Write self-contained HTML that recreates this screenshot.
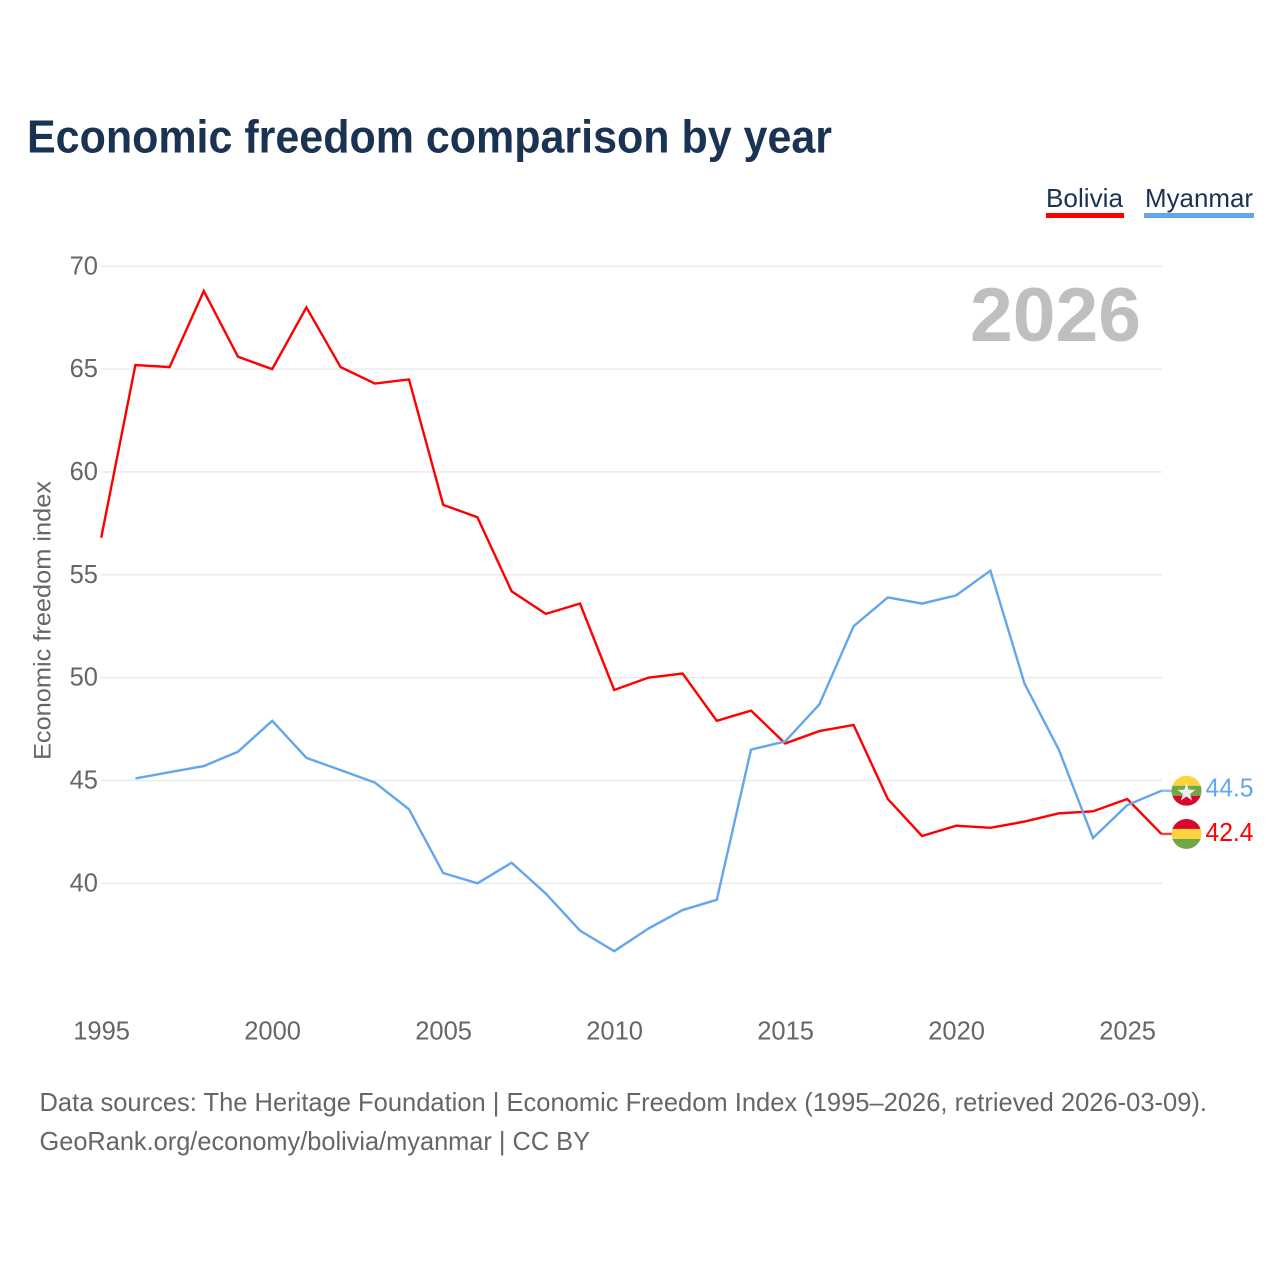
<!DOCTYPE html>
<html lang="en">
<head>
<meta charset="utf-8">
<title>Economic freedom comparison by year</title>
<style>
html,body{margin:0;padding:0;background:#fff;}
svg{display:block;}
text{font-family:"Liberation Sans",sans-serif;}
</style>
</head>
<body>
<svg id="chart" width="1280" height="1280" viewBox="0 0 1280 1280" xmlns="http://www.w3.org/2000/svg">
  <rect width="1280" height="1280" fill="#ffffff"/>
  <text x="27" y="152.5" font-size="46" font-weight="700" fill="#1a3353" textLength="805" lengthAdjust="spacingAndGlyphs">Economic freedom comparison by year</text>

  <text x="1046" y="207" font-size="26" fill="#1a3353" textLength="77" lengthAdjust="spacingAndGlyphs">Bolivia</text>
  <rect x="1046" y="213" width="78" height="5" fill="#ff0000"/>
  <text x="1145" y="207" font-size="26" fill="#1a3353" textLength="108" lengthAdjust="spacingAndGlyphs">Myanmar</text>
  <rect x="1144" y="213" width="110" height="5" fill="#64a6ed"/>

  <g id="grid"></g>
  <g id="yticks"></g>
  <g id="xticks"></g>

  <text x="1141" y="341" text-anchor="end" font-size="76" font-weight="700" fill="#bfbfbf" textLength="171" lengthAdjust="spacingAndGlyphs">2026</text>

  <text transform="translate(50.5,620.5) rotate(-90)" text-anchor="middle" font-size="24" fill="#666666" textLength="279" lengthAdjust="spacingAndGlyphs">Economic freedom index</text>

  <g id="series"></g>
  <g id="ends"></g>

  <defs>
    <clipPath id="flag-clip"><circle cx="0" cy="0" r="15"/></clipPath>
  </defs>

  <text x="39.5" y="1111" font-size="26" fill="#666666" textLength="1167.5" lengthAdjust="spacingAndGlyphs">Data sources: The Heritage Foundation | Economic Freedom Index (1995–2026, retrieved 2026-03-09).</text>
  <text x="39.5" y="1150" font-size="26" fill="#666666" textLength="550.5" lengthAdjust="spacingAndGlyphs">GeoRank.org/economy/bolivia/myanmar | CC BY</text>
</svg>
<script>
const years = [1995,1996,1997,1998,1999,2000,2001,2002,2003,2004,2005,2006,2007,2008,2009,2010,2011,2012,2013,2014,2015,2016,2017,2018,2019,2020,2021,2022,2023,2024,2025,2026];
const bolivia = [56.8,65.2,65.1,68.8,65.6,65.0,68.0,65.1,64.3,64.5,58.4,57.8,54.2,53.1,53.6,49.4,50.0,50.2,47.9,48.4,46.8,47.4,47.7,44.1,42.3,42.8,42.7,43.0,43.4,43.5,44.1,42.4];
const myanmar = [null,45.1,45.4,45.7,46.4,47.9,46.1,45.5,44.9,43.6,40.5,40.0,41.0,39.5,37.7,36.7,37.8,38.7,39.2,46.5,46.9,48.7,52.5,53.9,53.6,54.0,55.2,49.7,46.5,42.2,43.8,44.5];
const yTicks = [40,45,50,55,60,65,70];
const xTicks = [1995,2000,2005,2010,2015,2020,2025];

const NS = 'http://www.w3.org/2000/svg';
const xScale = function (year) { return 101.2 + (year - 1995) * 34.2; };
const yScale = function (value) { return 883.3 - (value - 40) * 20.567; };

function make(tag, parent, attrs, text) {
  const el = document.createElementNS(NS, tag);
  Object.keys(attrs).forEach(function (k) { el.setAttribute(k, attrs[k]); });
  if (text !== undefined) el.textContent = text;
  parent.appendChild(el);
  return el;
}

const grid = document.getElementById('grid');
const yG = document.getElementById('yticks');
yTicks.forEach(function (t) {
  const line = make('line', grid, {x1: 101, x2: 1162, y1: yScale(t), y2: yScale(t), stroke: '#e8e8e8', 'stroke-width': 1.3});
  
  
  const label = make('text', yG, {x: 98, y: yScale(t) + 8, 'text-anchor': 'end', 'font-size': 25.5, fill: '#666666'}, String(t));
  
  
});

const xG = document.getElementById('xticks');
xTicks.forEach(function (t) {
  const label = make('text', xG, {x: xScale(t) + 0.4, y: 1039.5, 'text-anchor': 'middle', 'font-size': 25.5, fill: '#666666'}, String(t));
  
  
});

function linePoints(values) {
  const pts = [];
  values.forEach(function (v, i) {
    if (v !== null) pts.push(xScale(years[i]).toFixed(2) + ',' + yScale(v).toFixed(2));
  });
  return pts.join(' ');
}

const seriesG = document.getElementById('series');
const boliviaLine = make('polyline', seriesG, {points: linePoints(bolivia), fill: 'none', stroke: '#ff0000', 'stroke-width': 2.4, 'stroke-linejoin': 'miter'});


const myanmarLine = make('polyline', seriesG, {points: linePoints(myanmar), fill: 'none', stroke: '#64a6ed', 'stroke-width': 2.4, 'stroke-linejoin': 'miter'});



const ends = document.getElementById('ends');
const lastX = xScale(years[years.length - 1]);
const boliviaLast = bolivia[bolivia.length - 1];
const myanmarLast = myanmar[myanmar.length - 1];
const flagX = 1186.5;

function band(parent, y, h, fill) {
  return make('rect', parent, {x: -15, y: y, width: 30, height: h, fill: fill});
}

const myY = yScale(myanmarLast);
const myTail = make('line', ends, {x1: lastX, x2: 1172, y1: myY, y2: myY, stroke: '#64a6ed', 'stroke-width': 2.4, opacity: 0.75});


const myFlag = make('g', ends, {transform: 'translate(' + flagX + ',' + myY + ')', 'clip-path': 'url(#flag-clip)'});


band(myFlag, -15, 10, '#fdd33f');
band(myFlag, -5, 10, '#71a744');
band(myFlag, 5, 10, '#d8082a');
make('polygon', myFlag, {points: '0,-7.5 2.2,-1.1 9,-0.9 3.6,3.2 5.6,9.7 0,5.8 -5.6,9.7 -3.6,3.2 -9,-0.9 -2.2,-1.1', fill: '#eeeeee'});
const myValue = make('text', ends, {x: 1205.5, y: myY + 6, 'font-size': 25.5, fill: '#64a6ed', textLength: 48, lengthAdjust: 'spacingAndGlyphs'}, myanmarLast.toFixed(1));



const boY = yScale(boliviaLast);
const boTail = make('line', ends, {x1: lastX, x2: 1172, y1: boY, y2: boY, stroke: '#ff0000', 'stroke-width': 2.4, opacity: 0.75});


const boFlag = make('g', ends, {transform: 'translate(' + flagX + ',' + boY + ')', 'clip-path': 'url(#flag-clip)'});


band(boFlag, -15, 10, '#d8082a');
band(boFlag, -5, 10, '#fdd33f');
band(boFlag, 5, 10, '#71a744');
const boValue = make('text', ends, {x: 1205.5, y: boY + 7, 'font-size': 25.5, fill: '#ff0000', textLength: 48, lengthAdjust: 'spacingAndGlyphs'}, boliviaLast.toFixed(1));


</script>
</body>
</html>
